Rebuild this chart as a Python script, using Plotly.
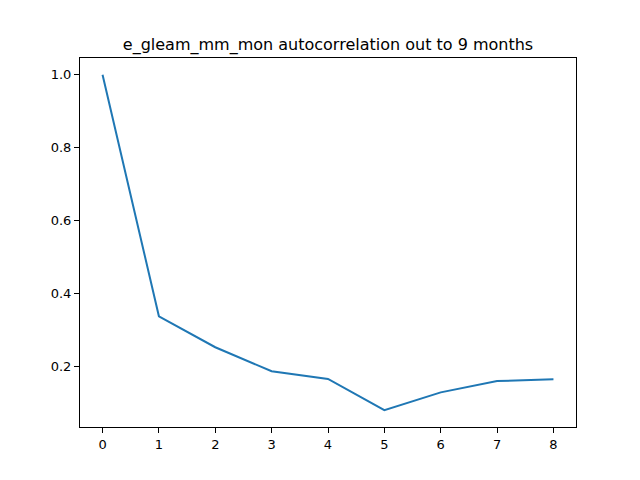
import plotly.graph_objs as go

lags = [0, 1, 2, 3, 4, 5, 6, 7, 8]
acf = [1.0, 0.337, 0.252, 0.186, 0.165, 0.079, 0.128, 0.159, 0.164]

fig = go.Figure(data=[
    go.Scatter(x=lags, y=acf, mode='lines',
               line=dict(color='#1f77b4', width=2))
])

axis_style = dict(
    showgrid=False, zeroline=False,
    showline=True, linecolor='black', linewidth=1, mirror=True,
    ticks='outside', ticklen=5, tickcolor='black',
    tickfont=dict(family='DejaVu Sans', size=13, color='black'),
)

# page body has an 8px margin, so shift everything up/left by 8px
fig.update_layout(
    width=640, height=480,
    margin=dict(l=72, r=72, t=50, b=61),
    paper_bgcolor='white', plot_bgcolor='white',
    showlegend=False,
    title=dict(
        text='e_gleam_mm_mon autocorrelation out to 9 months',
        font=dict(family='DejaVu Sans', size=16, color='black'),
        x=0.5, xref='paper', y=1 - 36 / 480, yref='container',
        xanchor='center', yanchor='middle',
    ),
    xaxis=dict(range=[-0.4, 8.4], tickvals=lags, **axis_style),
    yaxis=dict(range=[0.033, 1.046], tickvals=[0.2, 0.4, 0.6, 0.8, 1.0],
               ticktext=['0.2', '0.4', '0.6', '0.8', '1.0'], **axis_style),
)

fig.write_html("out.html")
